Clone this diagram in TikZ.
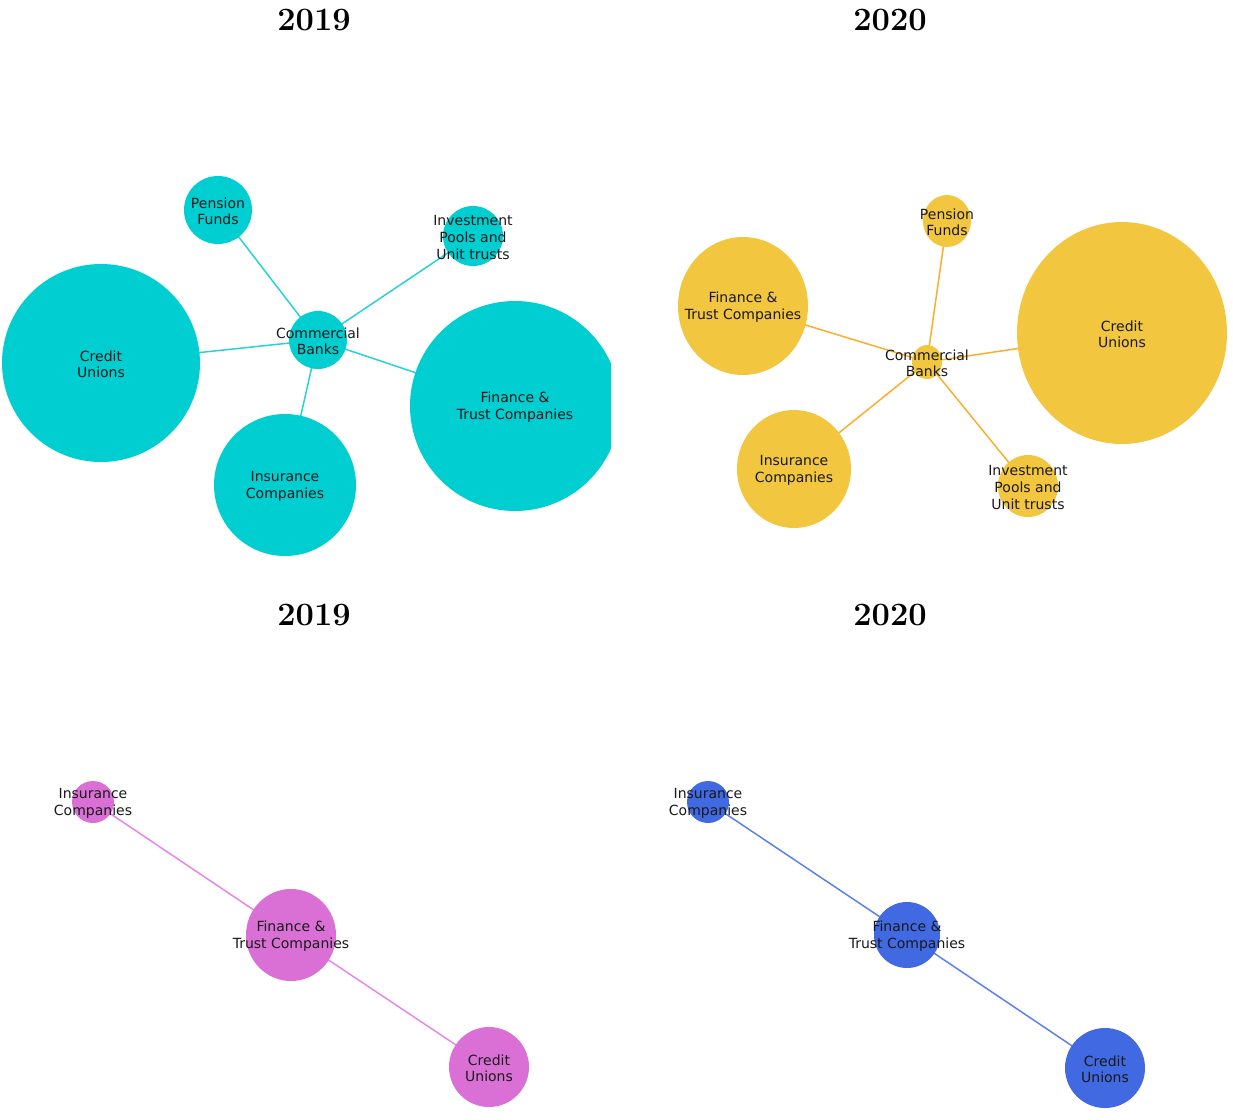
\documentclass[tikz,border=0pt]{standalone}
\usepackage{fontspec}
\newfontfamily\lblfont{DejaVu Sans}
\usetikzlibrary{shapes.geometric,backgrounds}
\definecolor{cyanfill}{HTML}{00CED1}
\definecolor{cyanedge}{HTML}{2AD2D5}
\definecolor{yelfill}{HTML}{F2C63F}
\definecolor{yeledge}{HTML}{FBAE2B}
\definecolor{pinkfill}{HTML}{DA70D6}
\definecolor{pinkedge}{HTML}{E884E6}
\definecolor{bluefill}{HTML}{4169E1}
\definecolor{blueedge}{HTML}{5C80EB}
\newcommand\mybubble[6]{\node[bub,fill=#6,minimum width=#4pt,minimum height=#5pt] (#1) at (#2,#3) {};}
\begin{document}
\begin{tikzpicture}[x=0.5pt,y=-0.5pt,
  bub/.style={ellipse,inner sep=0pt,draw=none},
  lab/.style={font=\lblfont\fontsize{7}{8.4}\selectfont,text=black!90,align=center,inner sep=0pt,yshift=-0.6pt},
  ttl/.style={font=\fontsize{16.3}{19}\selectfont\bfseries,inner sep=0pt},
  link/.style={line width=0.75pt}]
\useasboundingbox (0,0) rectangle (1233,1120);
% titles
\node[ttl] (t1) at (314,20) {2019};
\node[ttl] (t2) at (890,20) {2020};
\node[ttl] (t3) at (314,615) {2019};
\node[ttl] (t4) at (890,615) {2020};
% panel 1
\begin{scope}
\clip (0,40) rectangle (611,555);
\mybubble{cbA}{318}{340}{29}{29}{cyanfill}
\mybubble{pfA}{218}{210}{34}{34}{cyanfill}
\mybubble{ipA}{473}{236}{30}{30}{cyanfill}
\mybubble{cuA}{101}{363}{99}{99}{cyanfill}
\mybubble{ftA}{515}{406}{105}{105}{cyanfill}
\mybubble{icA}{285}{485}{71}{71}{cyanfill}
\end{scope}
% panel 2
\begin{scope}
\clip (620,40) rectangle (1228,555);
\mybubble{cbB}{927}{362}{15}{17}{yelfill}
\mybubble{pfB}{947}{221}{24}{26}{yelfill}
\mybubble{ftB}{743}{306}{65}{69}{yelfill}
\mybubble{cuB}{1122}{333}{105}{111}{yelfill}
\mybubble{icB}{794}{469}{57}{59}{yelfill}
\mybubble{ipB}{1028}{486}{30}{31}{yelfill}
\end{scope}
% panel 3
\mybubble{icC}{93}{802}{21}{21}{pinkfill}
\mybubble{ftC}{291}{935}{45}{46}{pinkfill}
\mybubble{cuC}{489}{1067}{40}{40}{pinkfill}
% panel 4
\mybubble{icD}{708}{802}{21}{21}{bluefill}
\mybubble{ftD}{907}{935}{33}{33}{bluefill}
\mybubble{cuD}{1105}{1068}{40}{40}{bluefill}
% edges
\begin{scope}[on background layer]
\draw[link,cyanedge] (cbA.center) -- (pfA.center);
\draw[link,cyanedge] (cbA.center) -- (ipA.center);
\draw[link,cyanedge] (cbA.center) -- (cuA.center);
\draw[link,cyanedge] (cbA.center) -- (ftA.center);
\draw[link,cyanedge] (cbA.center) -- (icA.center);
\draw[link,yeledge] (cbB.center) -- (pfB.center);
\draw[link,yeledge] (cbB.center) -- (ftB.center);
\draw[link,yeledge] (cbB.center) -- (cuB.center);
\draw[link,yeledge] (cbB.center) -- (icB.center);
\draw[link,yeledge] (cbB.center) -- (ipB.center);
\draw[link,pinkedge] (icC.center) -- (ftC.center);
\draw[link,pinkedge] (ftC.center) -- (cuC.center);
\draw[link,blueedge] (icD.center) -- (ftD.center);
\draw[link,blueedge] (ftD.center) -- (cuD.center);
\end{scope}
% labels
\node[lab] (cbA-t) at (cbA.center) {Commercial\\Banks};
\node[lab] (pfA-t) at (pfA.center) {Pension\\Funds};
\node[lab] (ipA-t) at (ipA.center) {Investment\\Pools and\\Unit trusts};
\node[lab] (cuA-t) at (cuA.center) {Credit\\Unions};
\node[lab] (ftA-t) at (ftA.center) {Finance \&\\Trust Companies};
\node[lab] (icA-t) at (icA.center) {Insurance\\Companies};
\node[lab] (cbB-t) at (cbB.center) {Commercial\\Banks};
\node[lab] (pfB-t) at (pfB.center) {Pension\\Funds};
\node[lab] (ipB-t) at (ipB.center) {Investment\\Pools and\\Unit trusts};
\node[lab] (cuB-t) at (cuB.center) {Credit\\Unions};
\node[lab] (ftB-t) at (ftB.center) {Finance \&\\Trust Companies};
\node[lab] (icB-t) at (icB.center) {Insurance\\Companies};
\node[lab] (icC-t) at (icC.center) {Insurance\\Companies};
\node[lab] (ftC-t) at (ftC.center) {Finance \&\\Trust Companies};
\node[lab] (cuC-t) at (cuC.center) {Credit\\Unions};
\node[lab] (icD-t) at (icD.center) {Insurance\\Companies};
\node[lab] (ftD-t) at (ftD.center) {Finance \&\\Trust Companies};
\node[lab] (cuD-t) at (cuD.center) {Credit\\Unions};
\end{tikzpicture}
\end{document}
